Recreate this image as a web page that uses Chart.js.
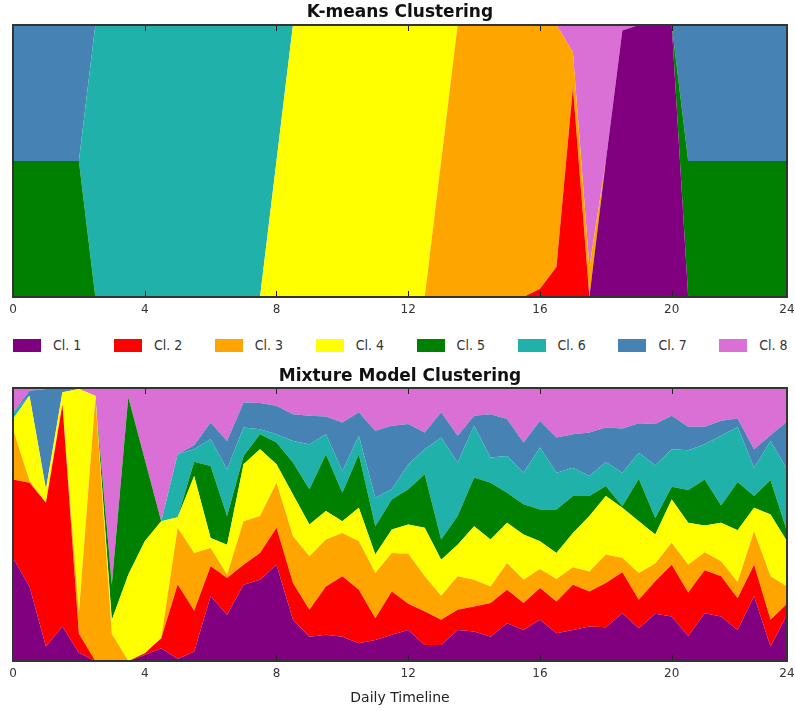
<!DOCTYPE html>
<html>
<head>
<meta charset="utf-8">
<script src="https://cdn.jsdelivr.net/npm/chart.js@4.4.1/dist/chart.umd.min.js"></script>
<style>
  body { margin: 0; background: #fff; }
  #wrap { position: relative; width: 795px; height: 711px; }
  #top { position: absolute; left: 0; top: 0; }
  #bottom { position: absolute; left: 0; top: 360px; }
  #legend { position: absolute; left: 0; top: 337px; width: 795px; height: 16px; }
  .item { position: absolute; top: 0; height: 16px; display: flex; align-items: center;
    font: 14px "Liberation Sans Narrow", "DejaVu Sans Condensed", sans-serif; color: #333; }
  .box { width: 28px; height: 13px; margin-right: 12px; box-sizing: border-box; }
</style>
</head>
<body>
<div id="wrap">
  <canvas id="top" width="795" height="320"></canvas>
  <div id="legend"></div>
  <canvas id="bottom" width="795" height="351"></canvas>
</div>
<script>
const hours = [0, 0.5, 1, 1.5, 2, 2.5, 3, 3.5, 4, 4.5, 5, 5.5,
  6, 6.5, 7, 7.5, 8, 8.5, 9, 9.5, 10, 10.5, 11, 11.5,
  12, 12.5, 13, 13.5, 14, 14.5, 15, 15.5, 16, 16.5, 17, 17.5,
  18, 18.5, 19, 19.5, 20, 20.5, 21, 21.5, 22, 22.5, 23, 23.5];

const tickValues = [0, 4, 8, 12, 16, 20, 23.5];
const tickLabels = ["0", "4", "8", "12", "16", "20", "24"];

const clusterNames = ["Cl. 1", "Cl. 2", "Cl. 3", "Cl. 4", "Cl. 5", "Cl. 6", "Cl. 7", "Cl. 8"];
const clusterColors = ["#800080", "#ff0000", "#ffa500", "#ffff00", "#008000", "#20b2aa", "#4682b4", "#da70d6"];

// K-means: share of each cluster per half hour
const km1 = [0,0,0,0,0,0,0,0,0,0,0,0, 0,0,0,0,0,0,0,0,0,0,0,0, 0,0,0,0,0,0,0,0,0,0,0,0, .5,.98,1,1,1,0,0,0,0,0,0,0];
const km2 = [0,0,0,0,0,0,0,0,0,0,0,0, 0,0,0,0,0,0,0,0,0,0,0,0, 0,0,0,0,0,0,0,0,.03,.11,.77,0, 0,0,0,0,0,0,0,0,0,0,0,0];
const km3 = [0,0,0,0,0,0,0,0,0,0,0,0, 0,0,0,0,0,0,0,0,0,0,0,0, 0,0,.5,1,1,1,1,1,.97,.89,.13,.11, 0,0,0,0,0,0,0,0,0,0,0,0];
const km4 = [0,0,0,0,0,0,0,0,0,0,0,0, 0,0,0,0,.5,1,1,1,1,1,1,1, 1,1,.5,0,0,0,0,0,0,0,0,0, 0,0,0,0,0,0,0,0,0,0,0,0];
const km5 = [.5,.5,.5,.5,.5,0,0,0,0,0,0,0, 0,0,0,0,0,0,0,0,0,0,0,0, 0,0,0,0,0,0,0,0,0,0,0,0, 0,0,0,0,0,.5,.5,.5,.5,.5,.5,.5];
const km6 = [0,0,0,0,0,1,1,1,1,1,1,1, 1,1,1,1,.5,0,0,0,0,0,0,0, 0,0,0,0,0,0,0,0,0,0,0,0, 0,0,0,0,0,0,0,0,0,0,0,0];
const km7 = [.5,.5,.5,.5,.5,0,0,0,0,0,0,0, 0,0,0,0,0,0,0,0,0,0,0,0, 0,0,0,0,0,0,0,0,0,0,0,0, 0,0,0,0,0,.5,.5,.5,.5,.5,.5,.5];
const km8 = [0,0,0,0,0,0,0,0,0,0,0,0, 0,0,0,0,0,0,0,0,0,0,0,0, 0,0,0,0,0,0,0,0,0,0,.1,.89, .5,.02,0,0,0,0,0,0,0,0,0,0];

// Mixture model: posterior share of each cluster per half hour
const mm1 = [.377,.273,.053,.126,.03,0,0,0,.022,.047,.008,.034, .237,.169,.279,.298,.353,.151,.089,.096,.089,.065,.077,.096,
  .114,.059,.059,.114,.108,.089,.138,.114,.151,.102,.114,.126, .124,.175,.12,.173,.163,.092,.175,.163,.114,.237,.053,.169];
const mm2 = [.288,.38,.527,.814,.07,0,0,0,.006,.036,.272,.15, .11,.135,.074,.098,.135,.135,.099,.177,.221,.196,.08,.159,
  .096,.122,.092,.074,.092,.123,.123,.098,.116,.116,.165,.129, .162,.15,.104,.119,.19,.159,.157,.147,.116,.116,.098,.041];
const mm3 = [.184,.007,0,0,.075,.962,.1,0,0,0,.208,.212, .067,.012,.159,.135,.165,.171,.196,.172,.159,.178,.165,.141,
  .183,.129,.088,.122,.098,.061,.098,.086,.07,.082,.064,.073, .104,.052,.098,.065,.08,.102,.066,.055,.059,.122,.159,.063];
const mm4 = [.037,.312,.049,.044,.821,.01,.05,.316,.411,.429,.039,.282, .037,.11,.209,.245,.068,.153,.116,.104,.043,.122,.068,.086,
  .107,.178,.132,.116,.196,.172,.147,.165,.102,.096,.126,.203, .214,.184,.19,.106,.159,.153,.098,.141,.19,.086,.227,.166];
const mm5 = [0,0,0,0,0,0,.129,.65,.3,0,0,.052, .263,.105,.03,.055,.079,.117,.129,.208,.104,.196,.104,.11,
  .129,.196,.074,.105,.178,.208,.11,.111,.116,.159,.135,.073, .037,.006,.156,.061,.046,.12,.169,.064,.177,.043,.126,.036];
const mm6 = [.024,0,0,0,0,0,0,0,0,0,.23,.046, .099,.171,.104,.018,.031,.079,.165,.074,.08,.068,.104,.037,
  .091,.092,.374,.196,.19,.092,.135,.116,.227,.135,.104,.074, .088,.123,.095,.193,.138,.146,.129,.255,.202,.104,.143,.227];
const mm7 = [0,.018,.367,.012,0,0,0,0,0,0,0,.014, .061,.104,.092,.096,.104,.098,.104,.065,.178,.086,.245,.233,
  .148,.061,.092,.098,.036,.159,.135,.11,.098,.129,.123,.159, .126,.162,.108,.151,.122,.086,.064,.055,.03,.068,.021,.175];
const mm8 = [.09,.01,.004,.004,.004,.028,.721,.034,.261,.488,.243,.21, .126,.194,.053,.055,.065,.096,.102,.104,.126,.089,.157,.138,
  .132,.163,.089,.175,.102,.096,.114,.2,.12,.181,.169,.163, .145,.148,.129,.132,.102,.142,.142,.12,.112,.224,.173,.123];

const kmSeries = [km1, km2, km3, km4, km5, km6, km7, km8];
const mmSeries = [mm1, mm2, mm3, mm4, mm5, mm6, mm7, mm8];

Chart.defaults.font.family = "DejaVu Sans";
Chart.defaults.color = "#333";

const frame = {
  id: "frame",
  afterDatasetsDraw(chart) {
    const { ctx, chartArea: a, scales: { x } } = chart;
    ctx.save();
    ctx.strokeStyle = "#222";
    ctx.lineWidth = 1;
    tickValues.slice(1, -1).forEach((v) => {
      const px = Math.round(x.getPixelForValue(v)) + 0.5;
      ctx.beginPath();
      ctx.moveTo(px, a.bottom);
      ctx.lineTo(px, a.bottom - 6);
      ctx.moveTo(px, a.top);
      ctx.lineTo(px, a.top + 6);
      ctx.stroke();
    });
    ctx.lineWidth = 2;
    ctx.strokeStyle = "#333";
    ctx.strokeRect(a.left, a.top, a.right - a.left, a.bottom - a.top);
    ctx.restore();
  },
};

function makeChart(id, title, series, titlePad, axisTitle, axisHeight) {
  return new Chart(document.getElementById(id), {
    type: "line",
    data: {
      datasets: series.map((vals, k) => ({
        label: clusterNames[k],
        data: hours.map((h, j) => ({ x: h, y: vals[j] })),
        backgroundColor: clusterColors[k],
        borderWidth: 0,
        pointRadius: 0,
        tension: 0,
        fill: k === 0 ? "origin" : "-1",
      })),
    },
    options: {
      responsive: false,
      animation: false,
      events: [],
      layout: { padding: { left: 13, right: 8, top: 0, bottom: 0 } },
      plugins: {
        legend: { display: false },
        tooltip: { enabled: false },
        title: {
          display: true,
          text: title,
          color: "#111",
          font: { size: 17, weight: "bold" },
          padding: titlePad,
        },
      },
      scales: {
        x: {
          type: "linear",
          min: 0,
          max: 23.5,
          grid: { display: false, drawTicks: false },
          border: { display: false },
          afterBuildTicks: (scale) => {
            scale.ticks = tickValues.map((v) => ({ value: v }));
          },
          afterFit: (scale) => {
            scale.height = axisHeight;
            scale.paddingLeft = 0;
            scale.paddingRight = 0;
          },
          ticks: {
            padding: 6,
            maxRotation: 0,
            autoSkip: false,
            font: { size: 12 },
            color: "#333",
            callback: (v) => tickLabels[tickValues.indexOf(v)],
          },
          title: axisTitle,
        },
        y: {
          display: false,
          stacked: true,
          min: 0,
          max: 1,
        },
      },
    },
    plugins: [frame],
  });
}

makeChart("top", "K-means Clustering", kmSeries, { top: 2.5, bottom: 2.1 }, { display: false }, 23);
makeChart("bottom", "Mixture Model Clustering", mmSeries, { top: 6.1, bottom: 1.5 },
  { display: true, text: "Daily Timeline", color: "#222", font: { size: 14 }, padding: { top: 4, bottom: 4.6 } }, 50);

const legend = document.getElementById("legend");
clusterNames.forEach((name, k) => {
  const item = document.createElement("div");
  item.className = "item";
  item.style.left = (13 + k * 100.9) + "px";
  item.innerHTML = `<div class="box" style="background:${clusterColors[k]}"></div>${name}`;
  legend.appendChild(item);
});
</script>
</body>
</html>
